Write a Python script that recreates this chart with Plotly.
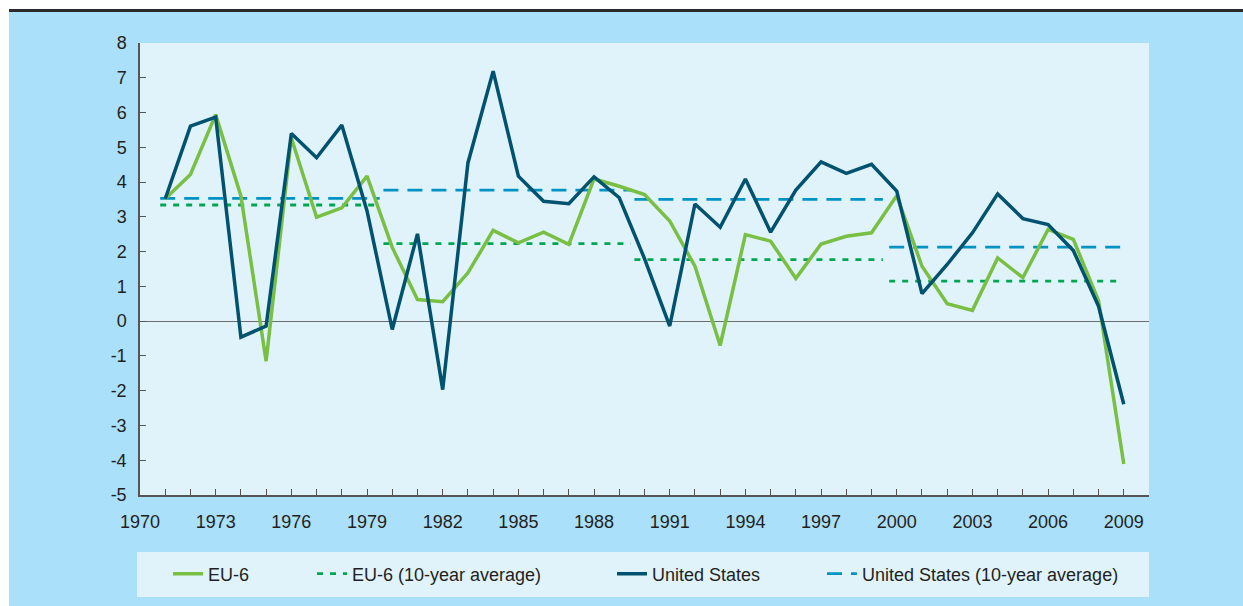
import plotly.graph_objects as go

# ---------------- data ----------------
years = list(range(1971, 2010))

eu6 = [3.52, 4.22, 5.94, 3.60, -1.15, 5.27, 2.99, 3.26, 4.17, 2.12,
       0.62, 0.56, 1.39, 2.61, 2.25, 2.56, 2.21, 4.09, 3.88, 3.64,
       2.88, 1.58, -0.70, 2.49, 2.30, 1.23, 2.22, 2.44, 2.54, 3.61,
       1.58, 0.50, 0.31, 1.82, 1.25, 2.64, 2.35, 0.59, -4.11]

us = [3.52, 5.61, 5.87, -0.46, -0.14, 5.40, 4.70, 5.64, 3.17, -0.24,
      2.51, -1.97, 4.55, 7.19, 4.17, 3.45, 3.38, 4.15, 3.55, 1.80,
      -0.14, 3.37, 2.70, 4.09, 2.56, 3.77, 4.58, 4.25, 4.51, 3.74,
      0.79, 1.63, 2.54, 3.66, 2.95, 2.78, 2.03, 0.43, -2.39]

# 10-year averages (period start / end on the year axis)
avg_start = [1970.8, 1979.65, 1989.6, 1999.7]
avg_end = [1979.5, 1989.45, 1999.45, 2008.9]
eu6_avg = [3.34, 2.23, 1.77, 1.15]
us_avg = [3.53, 3.77, 3.50, 2.13]

x_tickvals = list(range(1970, 2010, 3))
x_ticktext = [str(v) for v in x_tickvals]
y_tickvals = list(range(-5, 9))
y_ticktext = [str(v) for v in y_tickvals]  # hyphen minus as in the original

series_names = ["EU-6", "EU-6 (10-year average)", "United States",
                "United States (10-year average)"]

# ---------------- styling ----------------
C_EU = "#78bf43"
C_EU_AVG = "#00a651"
C_US = "#00526e"
C_US_AVG = "#0093c4"
OUTER_BG = "#abe0fa"
INNER_BG = "#e0f3fb"
TXT = "#231f20"
AX = "#555555"
FONT = "Liberation Sans, Arial, sans-serif"


def segments(starts, ends, vals):
    xs, ys = [], []
    for s, e, v in zip(starts, ends, vals):
        xs += [s, e, None]
        ys += [v, v, None]
    return xs, ys


fig = go.Figure()

ex, ey = segments(avg_start, avg_end, eu6_avg)
ux, uy = segments(avg_start, avg_end, us_avg)

# drawing order: averages first, then EU-6, then United States on top
fig.add_trace(go.Scatter(x=ex, y=ey, mode="lines", name=series_names[1],
                         line=dict(color=C_EU_AVG, width=2.8, dash="6px,7px"),
                         legend="legend2"))
fig.add_trace(go.Scatter(x=ux, y=uy, mode="lines", name=series_names[3],
                         line=dict(color=C_US_AVG, width=2.8, dash="15px,9px"),
                         legend="legend4"))
fig.add_trace(go.Scatter(x=years, y=eu6, mode="lines", name=series_names[0],
                         line=dict(color=C_EU, width=3.5), legend="legend"))
fig.add_trace(go.Scatter(x=years, y=us, mode="lines", name=series_names[2],
                         line=dict(color=C_US, width=3.5), legend="legend3"))

W, H = 1243, 606
L, R, T, B = 140, 94, 43, 111
pw, ph = W - L - R, H - T - B


def px2x(px):
    return (px - L) / pw


def py2y(py):
    return (H - B - py) / ph


shapes = [
    # outer white frame strips and black top rule
    dict(type="rect", xref="paper", yref="paper", x0=px2x(-5), x1=px2x(9),
         y0=py2y(H + 5), y1=py2y(-5), fillcolor="white", line=dict(width=0), layer="below"),
    dict(type="rect", xref="paper", yref="paper", x0=px2x(-5), x1=px2x(W + 5),
         y0=py2y(9), y1=py2y(-5), fillcolor="white", line=dict(width=0), layer="below"),
    dict(type="rect", xref="paper", yref="paper", x0=px2x(9), x1=px2x(W + 5),
         y0=py2y(12), y1=py2y(9), fillcolor="#2b2b2b", line=dict(width=0), layer="below"),
    # legend box background
    dict(type="rect", xref="paper", yref="paper", x0=px2x(137), x1=px2x(1149),
         y0=py2y(597), y1=py2y(552), fillcolor=INNER_BG, line=dict(width=0), layer="below"),
]

legend_common = dict(orientation="h", bgcolor="rgba(0,0,0,0)", borderwidth=0,
                     font=dict(family=FONT, size=18, color=TXT),
                     xanchor="left", yanchor="middle", y=py2y(574),
                     itemwidth=30, tracegroupgap=0)

fig.update_layout(
    width=W, height=H,
    margin=dict(l=L, r=R, t=T, b=B),
    paper_bgcolor=OUTER_BG,
    plot_bgcolor=INNER_BG,
    font=dict(family=FONT, size=18, color=TXT),
    shapes=shapes,
    showlegend=True,
    legend=dict(x=px2x(168), **legend_common),
    legend2=dict(x=px2x(312), **legend_common),
    legend3=dict(x=px2x(612), **legend_common),
    legend4=dict(x=px2x(822), **legend_common),
    xaxis=dict(range=[1970, 2010], tickvals=x_tickvals, ticktext=x_ticktext,
               showgrid=False, zeroline=False, showline=True, linecolor=AX,
               linewidth=1.5, ticks="inside", ticklen=6, tickwidth=1.2,
               tickcolor=AX, ticklabelstandoff=10,
               tickfont=dict(family=FONT, size=18, color=TXT),
               minor=dict(dtick=1, tick0=1970, ticks="inside", ticklen=6,
                          tickwidth=1.2, tickcolor=AX, showgrid=False)),
    yaxis=dict(range=[-5, 8], tickvals=y_tickvals, ticktext=y_ticktext,
               showgrid=False, zeroline=True, zerolinecolor="#6d6d6d",
               zerolinewidth=1.2, showline=True, linecolor=AX, linewidth=1.5,
               ticks="inside", ticklen=6, tickwidth=1.2, tickcolor=AX,
               ticklabelstandoff=8,
               tickfont=dict(family=FONT, size=18, color=TXT)),
)

fig.write_html("out.html",
               config={"displayModeBar": False},
               post_script="document.body.style.margin='0';"
                           "document.body.style.overflow='hidden';")
